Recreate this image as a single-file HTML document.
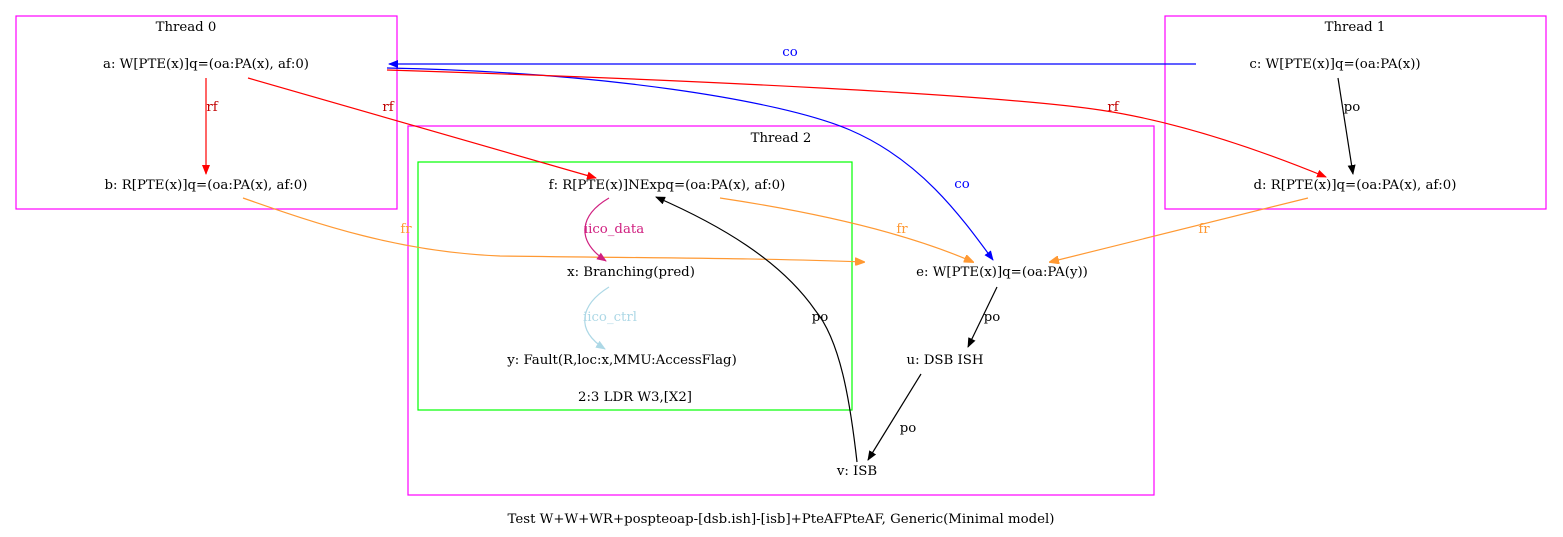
<!DOCTYPE html>
<html><head><meta charset="utf-8"><style>
html,body{margin:0;padding:0;background:#fff;}
svg{display:block;}
text{font-family:"DejaVu Serif",serif;font-size:13.3px;}
</style></head><body>
<svg width="1563" height="537" viewBox="0 0 1563 537" xmlns="http://www.w3.org/2000/svg">
<defs>
<marker id="ak" markerWidth="10" markerHeight="8" refX="9" refY="4" orient="auto" markerUnits="userSpaceOnUse"><path d="M0,0L10,4L0,8z" fill="#000"/></marker>
<marker id="ar" markerWidth="10" markerHeight="8" refX="9" refY="4" orient="auto" markerUnits="userSpaceOnUse"><path d="M0,0L10,4L0,8z" fill="#f00"/></marker>
<marker id="ab" markerWidth="10" markerHeight="8" refX="9" refY="4" orient="auto" markerUnits="userSpaceOnUse"><path d="M0,0L10,4L0,8z" fill="#00f"/></marker>
<marker id="ao" markerWidth="10" markerHeight="8" refX="9" refY="4" orient="auto" markerUnits="userSpaceOnUse"><path d="M0,0L10,4L0,8z" fill="#ff9933" stroke="#ff9933"/></marker>
<marker id="ac" markerWidth="10" markerHeight="8" refX="9" refY="4" orient="auto" markerUnits="userSpaceOnUse"><path d="M0,0L10,4L0,8z" fill="#d02080"/></marker>
<marker id="al" markerWidth="10" markerHeight="8" refX="9" refY="4" orient="auto" markerUnits="userSpaceOnUse"><path d="M0,0L10,4L0,8z" fill="#add8e6"/></marker>
</defs>
<g fill="none" stroke-width="1.2">
<rect x="16" y="16" width="381" height="193" stroke="#f0f"/>
<rect x="1165" y="16" width="381" height="193" stroke="#f0f"/>
<rect x="408" y="126" width="746" height="369" stroke="#f0f"/>
<rect x="418" y="162" width="434" height="248" stroke="#0f0"/>
</g>
<g text-anchor="middle">
<text x="186" y="31">Thread 0</text>
<text x="1355" y="31">Thread 1</text>
<text x="781" y="142">Thread 2</text>
<text x="635" y="401">2:3 LDR W3,[X2]</text>
<text x="206" y="68">a: W[PTE(x)]q=(oa:PA(x), af:0)</text>
<text x="206" y="189">b: R[PTE(x)]q=(oa:PA(x), af:0)</text>
<text x="1335" y="68">c: W[PTE(x)]q=(oa:PA(x))</text>
<text x="1355" y="189">d: R[PTE(x)]q=(oa:PA(x), af:0)</text>
<text x="667" y="189">f: R[PTE(x)]NExpq=(oa:PA(x), af:0)</text>
<text x="631" y="276">x: Branching(pred)</text>
<text x="622" y="364">y: Fault(R,loc:x,MMU:AccessFlag)</text>
<text x="1002" y="276">e: W[PTE(x)]q=(oa:PA(y))</text>
<text x="945" y="364">u: DSB ISH</text>
<text x="857" y="475">v: ISB</text>
<text x="781" y="523">Test W+W+WR+pospteoap-[dsb.ish]-[isb]+PteAFPteAF, Generic(Minimal model)</text>
</g>
<g fill="none" stroke-width="1.2">
<path d="M1196,64L389,64" stroke="#00f" marker-end="url(#ab)"/>
<path d="M206,78L206,174" stroke="#f00" marker-end="url(#ar)"/>
<path d="M248,78L596,178" stroke="#f00" marker-end="url(#ar)"/>
<path d="M387,68C600,72 780,100 850,130C920,160 960,215 993,260" stroke="#00f" marker-end="url(#ab)"/>
<path d="M387,70C700,80 1000,95 1100,110C1180,122 1260,150 1326,177" stroke="#f00" marker-end="url(#ar)"/>
<path d="M1338,78L1353,174" stroke="#000" marker-end="url(#ak)"/>
<path d="M243,198C320,225 400,252 500,256C650,258 760,258 864,262" stroke="#ff9933" marker-end="url(#ao)"/>
<path d="M720,198C800,210 900,230 973,262" stroke="#ff9933" marker-end="url(#ao)"/>
<path d="M1308,198L1050,262" stroke="#ff9933" marker-end="url(#ao)"/>
<path d="M609,198C580,215 575,240 606,261" stroke="#d02080" marker-end="url(#ac)"/>
<path d="M609,287C580,305 575,330 605,349" stroke="#add8e6" marker-end="url(#al)"/>
<path d="M997,287L968,347" stroke="#000" marker-end="url(#ak)"/>
<path d="M921,374L868,460" stroke="#000" marker-end="url(#ak)"/>
<path d="M857,462C850,400 840,340 815,310C780,260 720,225 656,197" stroke="#000" marker-end="url(#ak)"/>
</g>
<g text-anchor="middle">
<text x="790" y="56" fill="#00f">co</text>
<text x="212" y="111" fill="#c00000">rf</text>
<text x="388" y="111" fill="#c00000">rf</text>
<text x="1113" y="111" fill="#c00000">rf</text>
<text x="962" y="188" fill="#00f">co</text>
<text x="1352" y="111" fill="#000">po</text>
<text x="406" y="233" fill="#ff9933">fr</text>
<text x="902" y="233" fill="#ff9933">fr</text>
<text x="1204" y="233" fill="#ff9933">fr</text>
<text x="614" y="233" fill="#d02080">iico_data</text>
<text x="610" y="321" fill="#add8e6">iico_ctrl</text>
<text x="992" y="321" fill="#000">po</text>
<text x="820" y="321" fill="#000">po</text>
<text x="908" y="432" fill="#000">po</text>
</g>
</svg>
</body></html>
